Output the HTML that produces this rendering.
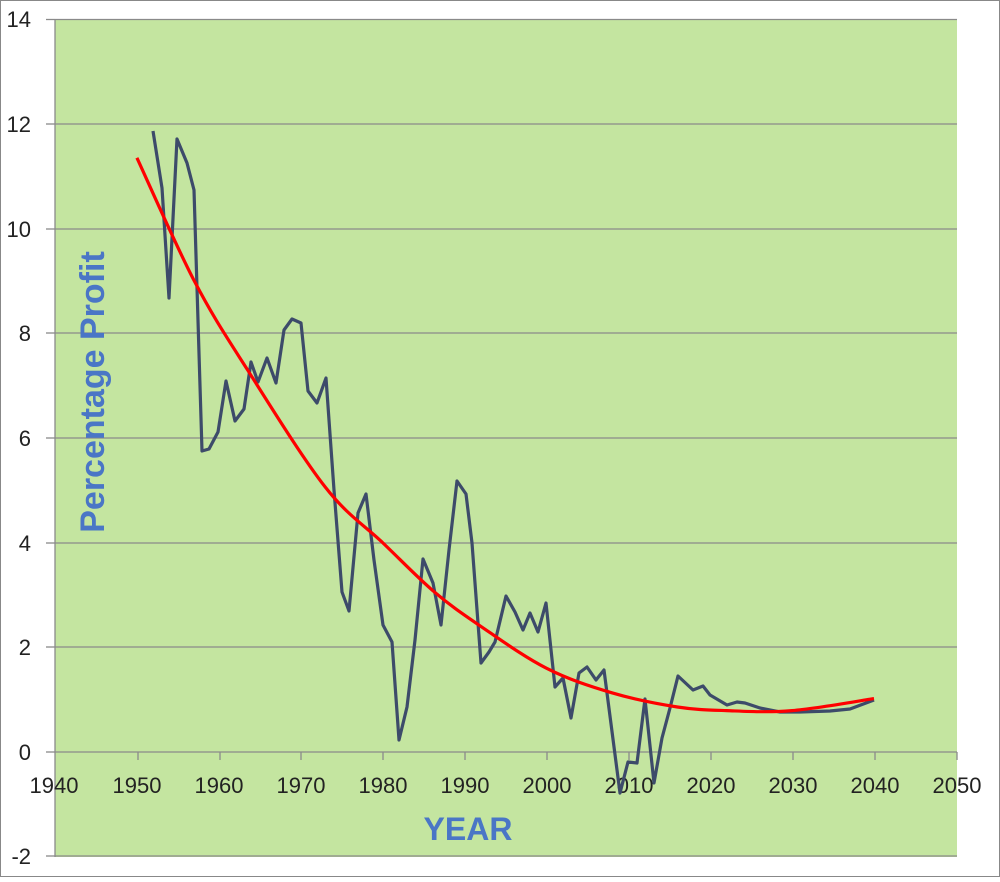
<!DOCTYPE html>
<html><head><style>
body{margin:0;background:#fff;}
svg text{font-family:"Liberation Sans",sans-serif;}
</style></head><body>
<svg id="s" width="1000" height="877" viewBox="0 0 1000 877" xmlns="http://www.w3.org/2000/svg">
<rect x="0.5" y="0.5" width="999" height="876" fill="#fff" stroke="#888"/>
<rect x="55" y="19" width="902" height="838" fill="#c4e5a0"/>
<g stroke="#8a8a8a" stroke-width="1.3">
<line x1="55" y1="19.5" x2="957" y2="19.5"/>
<line x1="55" y1="124" x2="957" y2="124"/>
<line x1="55" y1="229" x2="957" y2="229"/>
<line x1="55" y1="333" x2="957" y2="333"/>
<line x1="55" y1="438" x2="957" y2="438"/>
<line x1="55" y1="543" x2="957" y2="543"/>
<line x1="55" y1="647" x2="957" y2="647"/>
<line x1="55" y1="856" x2="957" y2="856"/>
<line x1="55" y1="19" x2="55" y2="857"/>
<line x1="55" y1="752" x2="957" y2="752"/>
<line x1="46" y1="19.5" x2="55" y2="19.5"/><line x1="46" y1="124" x2="55" y2="124"/><line x1="46" y1="229" x2="55" y2="229"/><line x1="46" y1="333" x2="55" y2="333"/><line x1="46" y1="438" x2="55" y2="438"/><line x1="46" y1="543" x2="55" y2="543"/><line x1="46" y1="647" x2="55" y2="647"/><line x1="46" y1="752" x2="55" y2="752"/><line x1="46" y1="856" x2="55" y2="856"/>
<line x1="138" y1="752" x2="138" y2="760"/><line x1="220" y1="752" x2="220" y2="760"/><line x1="301" y1="752" x2="301" y2="760"/><line x1="383" y1="752" x2="383" y2="760"/><line x1="465" y1="752" x2="465" y2="760"/><line x1="547" y1="752" x2="547" y2="760"/><line x1="629" y1="752" x2="629" y2="760"/><line x1="711" y1="752" x2="711" y2="760"/><line x1="793" y1="752" x2="793" y2="760"/><line x1="875" y1="752" x2="875" y2="760"/><line x1="957" y1="752" x2="957" y2="760"/>
</g>
<g font-size="22" fill="#222" text-anchor="end">
<text x="31" y="27">14</text><text x="31" y="132">12</text><text x="31" y="237">10</text><text x="31" y="341">8</text><text x="31" y="446">6</text><text x="31" y="551">4</text><text x="31" y="655">2</text><text x="31" y="760">0</text><text x="31" y="864">-2</text>
</g>
<g font-size="22" fill="#222" text-anchor="middle">
<text x="54" y="793">1940</text><text x="137" y="793">1950</text><text x="219" y="793">1960</text><text x="301" y="793">1970</text><text x="383" y="793">1980</text><text x="465" y="793">1990</text><text x="547" y="793">2000</text><text x="629" y="793">2010</text><text x="711" y="793">2020</text><text x="793" y="793">2030</text><text x="875" y="793">2040</text><text x="957" y="793">2050</text>
</g>
<text x="468" y="840" font-size="32" font-weight="bold" fill="#4a76c6" text-anchor="middle">YEAR</text>
<text transform="translate(104,392) rotate(-90)" font-size="34" font-weight="bold" fill="#4a76c6" text-anchor="middle">Percentage Profit</text>
<polyline fill="none" stroke="#3d4b6a" stroke-width="3.2" stroke-linejoin="round" points="153,131 162,188 169,298 177,139 187,163 194,190 202,451 209,449 218,432 226,381 235,421 244,409 251,362 258,382 267,358 276,383 284,330 292,319 301,323 308,391 317,403 326,378 334,490 342,592 349,611 358,513 366,494 374,560 383,625 392,642 399,740 407,707 415,640 423,559 433,583 441,625 449,550 457,481 466,494 472,543 481,663 489,652 495,642 506,596 515,612 523,630 530,613 538,632 546,603 555,687 563,678 571,718 579,673 587,667 596,680 604,670 620,793 628,762 637,763 645,699 654,783 662,738 670,708 678,676 693,690 703,686 710,695 727,705 737,702 745,703 760,708 780,712 800,712 830,711 850,709 874,700"/>
<path id="tr" fill="none" stroke="#f00" stroke-width="3.2"/>
</svg>
<script>
var P=[[1950,11.35],[1957,9.0],[1963.5,7.3],[1973,5.06],[1980,4.0],[1986.3,3.06],[1992,2.4],[2000,1.6],[2008,1.13],[2016,0.86],[2022,0.79],[2030,0.79],[2040,1.02]];
function X(y){return 55+(y-1940)*8.19;}function Y(v){return 752-v*52.35;}
var pts=P.map(function(p){return [X(p[0]),Y(p[1])];});
var d="M"+pts[0][0].toFixed(1)+","+pts[0][1].toFixed(1);
for(var i=0;i<pts.length-1;i++){var p0=pts[Math.max(i-1,0)],p1=pts[i],p2=pts[i+1],p3=pts[Math.min(i+2,pts.length-1)];
var c1=[p1[0]+(p2[0]-p0[0])/6,p1[1]+(p2[1]-p0[1])/6],c2=[p2[0]-(p3[0]-p1[0])/6,p2[1]-(p3[1]-p1[1])/6];
d+="C"+c1[0].toFixed(1)+","+c1[1].toFixed(1)+" "+c2[0].toFixed(1)+","+c2[1].toFixed(1)+" "+p2[0].toFixed(1)+","+p2[1].toFixed(1);}
document.getElementById("tr").setAttribute("d",d);
</script>
</body></html>
